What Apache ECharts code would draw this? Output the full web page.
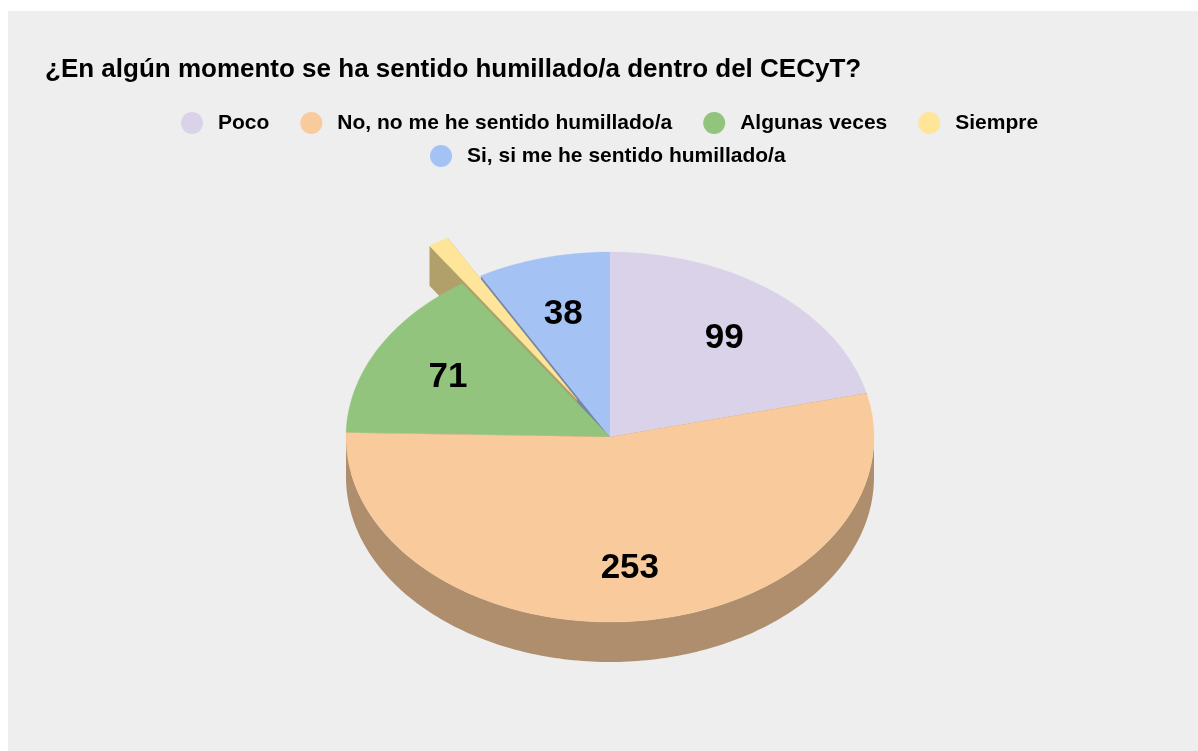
<!DOCTYPE html>
<html><head><meta charset="utf-8">
<style>html,body{margin:0;padding:0;background:#fff}#c{width:1198px;height:751px}</style>
<script src="https://cdn.jsdelivr.net/npm/echarts@6/dist/echarts.min.js"></script>
</head><body><div id="c"></div>
<script>
const categories = ['Poco','No, no me he sentido humillado/a','Algunas veces','Siempre','Si, si me he sentido humillado/a'];
const values = [99,253,71,6,38];
const colors = ['#d9d2e9','#f9cb9c','#93c47d','#ffe599','#a4c2f4'];
const sideColors = ['#9890a3','#ae8e6d','#678957','#b2a06b','#7388ab'];
const explode = [0,0,0,0.24,0];
const labelHidden = [false,false,false,true,false];
const drawOrder = [4,3,0,2,1];

const CX=610, CY=437, RX=264, RY=185, DEPTH=40, LABEL_R=0.7, LABEL_DY=3;
const FONT='"Liberation Sans", Arial, sans-serif';
const total = values.reduce((a,b)=>a+b,0);
const DEG = Math.PI/180;

function sliceAngles(i){
  let s=0; for(let k=0;k<i;k++) s+=values[k];
  return [s/total*360,(s+values[i])/total*360];
}
function pt(a,ox,oy,f){return [CX+ox+RX*f*Math.sin(a*DEG),CY+oy-RY*f*Math.cos(a*DEG)];}
function arc(a0,a1,ox,oy){
  const out=[], n=Math.max(2,Math.ceil(Math.abs(a1-a0)));
  for(let j=0;j<=n;j++) out.push(pt(a0+(a1-a0)*j/n,ox,oy,1));
  return out;
}
function poly(points,fill,edge){return {type:'polygon',shape:{points},style:edge?{fill,stroke:fill,lineWidth:0.3}:{fill},silent:true};}

function renderSlice(i){
  return function(params,api){
    const value=api.value(0);
    const [a0,a1]=sliceAngles(i), mid=(a0+a1)/2, e=explode[i];
    const ox=RX*e*Math.sin(mid*DEG), oy=-RY*e*Math.cos(mid*DEG);
    const fill=api.visual('color'), side=sideColors[i];
    const ch=[];
    const apex=[CX+ox,CY+oy];
    const down=p=>[p[0],p[1]+DEPTH];
    [a0,a1].forEach(a=>{
      const o=pt(a,ox,oy,1);
      ch.push(poly([apex,o,down(o),down(apex)],side,false));
    });
    const w0=Math.max(a0,90), w1=Math.min(a1,270);
    if(w1>w0){
      const top=arc(w0,w1,ox,oy);
      ch.push(poly(top.concat(top.slice().reverse().map(down)),side,false));
    }
    ch.push(poly([apex].concat(arc(a0,a1,ox,oy)),fill,true));
    if(!labelHidden[i]){
      const p=pt(mid,ox,oy,LABEL_R);
      ch.push({type:'text',silent:true,style:{x:p[0],y:p[1]+LABEL_DY,text:String(value),fill:'#000',
        font:'bold 35px '+FONT,align:'center',verticalAlign:'middle'}});
    }
    return {type:'group',children:ch};
  };
}

const legendStyle={textStyle:{color:'#000',fontFamily:FONT,fontWeight:'bold',fontSize:21,padding:[0,0,0,10]},
  icon:'circle',itemWidth:22,itemHeight:22,itemGap:31,selectedMode:false};

const series=categories.map((name,i)=>({
  type:'custom',name,coordinateSystem:'none',
  z:2+drawOrder.indexOf(i),
  itemStyle:{color:colors[i]},
  renderItem:renderSlice(i),
  data:[[values[i]]],
  silent:true
}));

const chart=echarts.init(document.getElementById('c'),null,{renderer:'canvas'});
chart.setOption({
  animation:false,
  backgroundColor:'#ffffff',
  graphic:[{type:'rect',silent:true,z:-10,shape:{x:8,y:11,width:1190,height:740},style:{fill:'#eeeeee'}}],
  title:{text:'¿En algún momento se ha sentido humillado/a dentro del CECyT?',left:45,top:57,padding:0,
    textStyle:{color:'#000',fontFamily:FONT,fontWeight:'bold',fontSize:26}},
  legend:[
    Object.assign({data:categories.slice(0,4),left:181,top:112,padding:0},legendStyle),
    Object.assign({data:categories.slice(4),left:430,top:145,padding:0},legendStyle)
  ],
  series
});
</script></body></html>
